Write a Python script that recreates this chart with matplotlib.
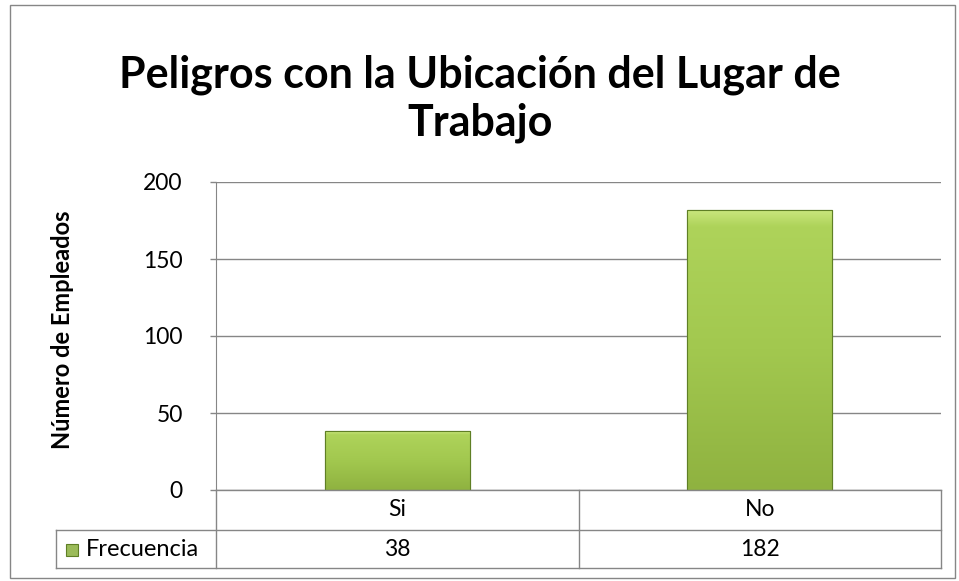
import matplotlib
matplotlib.use("Agg")
import matplotlib.pyplot as plt
import numpy as np
from matplotlib.patches import Rectangle
from matplotlib.lines import Line2D
from matplotlib.colors import LinearSegmentedColormap

categories = ["Si", "No"]
values = [38, 182]
series_name = "Frecuencia"
yticks = [0, 50, 100, 150, 200]
title = "Peligros con la Ubicación del Lugar de\nTrabajo"
ylabel = "Número de Empleados"

W, H = 959, 581
fig = plt.figure(figsize=(W / 100, H / 100), dpi=100)
plt.rcParams['font.family'] = ['Lato', 'DejaVu Sans']

def fx(px):
    return px / W

def fy(py):
    return 1 - py / H

# outer border
fig.add_artist(Rectangle((fx(10), fy(578)), fx(955) - fx(10), fy(5) - fy(578),
                         transform=fig.transFigure, fill=False, edgecolor="#868686", lw=1))

L, R, T, B = 216, 941, 182, 490
ax = fig.add_axes([fx(L), fy(B), fx(R) - fx(L), fy(T) - fy(B)])
x = np.arange(len(categories))
ax.set_xlim(-0.5, len(categories) - 0.5)
ax.set_ylim(0, 200)
ax.set_yticks(yticks)
ax.set_yticklabels([str(t) for t in yticks], fontsize=16.5)
ax.tick_params(axis="y", length=4, width=1, color="#868686", pad=20)
ax.tick_params(axis="x", length=0, labelbottom=False)
for s in ["top", "right", "bottom"]:
    ax.spines[s].set_visible(False)
ax.spines["left"].set_color("#868686")
ax.yaxis.grid(True, color="#868686", lw=1)
ax.set_axisbelow(True)

bars = ax.bar(x, values, width=0.4, color="#9bbb59", edgecolor="#6a8a2a", lw=0.8, zorder=2)
cmap = LinearSegmentedColormap.from_list(
    "g", [(0, "#cbe87f"), (0.06, "#aed35a"), (0.5, "#a2c84f"), (1, "#8fb240")])
grad = np.linspace(0, 1, 256).reshape(-1, 1)
for b in bars:
    x0, y0 = b.get_x(), b.get_y()
    w, h = b.get_width(), b.get_height()
    im = ax.imshow(grad, extent=[x0, x0 + w, y0, y0 + h], origin="upper", aspect="auto",
                   cmap=cmap, zorder=3)
    im.set_clip_path(b)
    ax.add_patch(Rectangle((x0, y0), w, h, fill=False, edgecolor="#5f7f25", lw=0.8, zorder=4))
ax.set_xlim(-0.5, len(categories) - 0.5)
ax.set_ylim(0, 200)

# data table below axes
gc = "#868686"
tb1, tb2, tb3 = 490, 530, 568
lx = 56
lines = [
    ((L, L), (B, tb3)),
    ((R, R), (tb1, tb3)),
    ((L, R), (tb1, tb1)),
    ((lx, R), (tb2, tb2)),
    ((lx, R), (tb3, tb3)),
    ((lx, lx), (tb2, tb3)),
]
trans = ax.get_xaxis_transform()
for xs, ys in lines:
    fig.add_artist(Line2D([fx(v) for v in xs], [fy(v) for v in ys],
                          transform=fig.transFigure, color=gc, lw=1))
for i in range(1, len(categories)):
    xd = i - 0.5
    ax.plot([xd, xd], [(B - tb1) / (B - T), (B - tb3) / (B - T)],
            transform=trans, color=gc, lw=1, clip_on=False)

for i, (c, v) in enumerate(zip(categories, values)):
    ax.text(i, (B - (tb1 + tb2) / 2) / (B - T), c, transform=trans, ha="center", va="center", fontsize=16.5)
    ax.text(i, (B - (tb2 + tb3) / 2) / (B - T), str(v), transform=trans, ha="center", va="center", fontsize=16.5)

fig.add_artist(Rectangle((fx(66), fy(556)), fx(78) - fx(66), fy(544) - fy(556),
                         transform=fig.transFigure, facecolor="#9bbb59", edgecolor="#5f7f25", lw=0.8))
fig.text(fx(86), fy((tb2 + tb3) / 2), series_name, ha="left", va="center", fontsize=17)

fig.text(fx(480), fy(99), title, ha="center", va="center", fontsize=31, fontweight="bold",
         linespacing=1.22)
fig.text(fx(63), fy(330), ylabel, ha="center", va="center", rotation=90, fontsize=17,
         fontweight="bold")

fig.savefig("out.png", dpi=100)
